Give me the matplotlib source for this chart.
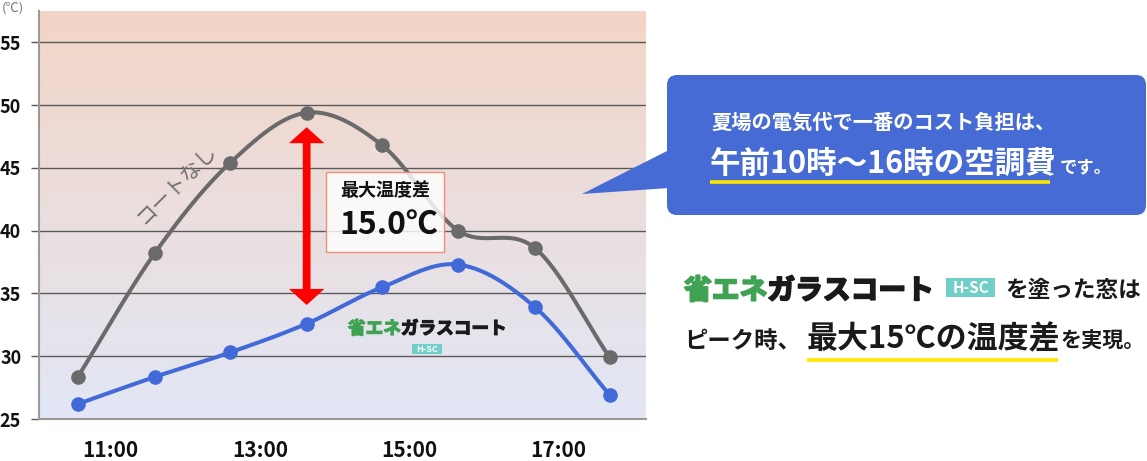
import numpy as np
import matplotlib
matplotlib.use("Agg")
import matplotlib.pyplot as plt
import matplotlib.patheffects as pe
from matplotlib.patches import FancyBboxPatch, Polygon, Rectangle

# ---------------- data ----------------
times = [10.56, 11.59, 12.60, 13.63, 14.64, 15.66, 16.69, 17.69]
no_coat = [28.35, 38.2, 45.4, 49.4, 46.8, 40.0, 38.6, 29.9]
hsc_coat = [26.2, 28.35, 30.3, 32.6, 35.5, 37.3, 33.9, 26.9]
xtick_vals = [11, 13, 15, 17]
xtick_labels = ["11:00", "13:00", "15:00", "17:00"]
ytick_vals = [25, 30, 35, 40, 45, 50, 55]
max_diff_label = "15.0℃"

JP = ['Noto Sans CJK JP', 'DejaVu Sans']
plt.rcParams['font.family'] = JP

GRAY = '#6a6a6a'
BLUE = '#4169d8'
GREEN = '#40a253'
TEAL = '#72cfc8'
YELLOW = '#ffe500'
BUBBLE = '#466bd4'
INK = '#1a1a1a'

W, H = 1147, 461
fig = plt.figure(figsize=(W / 100, H / 100), dpi=100)

# chart axes (pixel box: left 39, right 646, top 11, bottom 419)
L, R, T, B = 39, 646, 11, 419
ax = fig.add_axes([L / W, (H - B) / H, (R - L) / W, (B - T) / H])
x0, x1 = 10.039, 18.176
y0, y1 = 25, 57.5
ax.set_xlim(x0, x1)
ax.set_ylim(y0, y1)

# gradient background
top = np.array([243, 213, 198]) / 255
bot = np.array([226, 231, 246]) / 255
t = np.linspace(0, 1, 256)[:, None]
grad = (top[None, :] * (1 - t) + bot[None, :] * t)[:, None, :]
ax.imshow(grad, extent=[x0, x1, y0, y1], aspect='auto', zorder=0, origin='upper')


def smooth(xs, ys, n=30):
    xs = np.asarray(xs, float)
    ys = np.asarray(ys, float)
    m = np.zeros_like(ys)
    m[1:-1] = (ys[2:] - ys[:-2]) / (xs[2:] - xs[:-2])
    m[0] = (ys[1] - ys[0]) / (xs[1] - xs[0])
    m[-1] = (ys[-1] - ys[-2]) / (xs[-1] - xs[-2])
    X, Y = [], []
    for i in range(len(xs) - 1):
        h = xs[i + 1] - xs[i]
        s = np.linspace(0, 1, n, endpoint=(i == len(xs) - 2))
        h00 = 2 * s**3 - 3 * s**2 + 1
        h10 = s**3 - 2 * s**2 + s
        h01 = -2 * s**3 + 3 * s**2
        h11 = s**3 - s**2
        X.append(xs[i] + s * h)
        Y.append(h00 * ys[i] + h10 * h * m[i] + h01 * ys[i + 1] + h11 * h * m[i + 1])
    return np.concatenate(X), np.concatenate(Y)


sx, sy = smooth(times, no_coat)
ax.plot(sx, sy, color=GRAY, lw=2.9, zorder=3, solid_capstyle='round')
ax.plot(times, no_coat, 'o', color=GRAY, ms=9.5, zorder=4)
bx, by = smooth(times, hsc_coat)
ax.plot(bx, by, color=BLUE, lw=2.9, zorder=3, solid_capstyle='round')
ax.plot(times, hsc_coat, 'o', color=BLUE, ms=9.5, zorder=4)

# red double arrow (max difference)
ax_c = 13.627
hw, sw = 0.237, 0.052
yt, yhb, ybb, yb = 48.24, 46.97, 35.36, 34.08
arrow = Polygon([(ax_c, yt), (ax_c + hw, yhb), (ax_c + sw, yhb), (ax_c + sw, ybb),
                 (ax_c + hw, ybb), (ax_c, yb), (ax_c - hw, ybb), (ax_c - sw, ybb),
                 (ax_c - sw, yhb), (ax_c - hw, yhb)], closed=True,
                facecolor='#ff0000', edgecolor='none', zorder=5)
ax.add_patch(arrow)

# axes styling
ax.set_yticks(ytick_vals)
ax.set_yticklabels([str(v) for v in ytick_vals])
ax.set_xticks(xtick_vals)
ax.set_xticklabels(xtick_labels)
ax.grid(axis='y', color='#5a5a5a', lw=1.0, zorder=1)
ax.grid(axis='x', visible=False)
ax.tick_params(axis='y', length=5.8, width=1.0, color='#5a5a5a', pad=7,
               labelsize=13, labelcolor='#111111')
ax.tick_params(axis='x', length=0, pad=15, labelsize=15, labelcolor='#111111')
for lab in ax.get_xticklabels() + ax.get_yticklabels():
    lab.set_fontweight('bold')
for s in ['top', 'right']:
    ax.spines[s].set_visible(False)
for s in ['left', 'bottom']:
    ax.spines[s].set_color('#9a9a9a')
    ax.spines[s].set_linewidth(1.5)
    ax.spines[s].set_zorder(2)

# ---------------- overlay (pixel coordinates) ----------------
ov = fig.add_axes([0, 0, 1, 1])
ov.set_xlim(0, W)
ov.set_ylim(H, 0)
ov.axis('off')
ov.patch.set_alpha(0)

fig.canvas.draw()
renderer = fig.canvas.get_renderer()


def run(x, y, pieces, heavy=0.0):
    for s, size, color, weight, gap in pieces:
        tx = ov.text(x, y, s, fontsize=size, color=color, fontweight=weight,
                     family=JP, ha='left', va='baseline', zorder=7)
        if heavy:
            tx.set_path_effects([pe.withStroke(linewidth=heavy, foreground=color)])
        bb = tx.get_window_extent(renderer)
        x += bb.width + gap
    return x


ov.text(2, 8, "(℃)", fontsize=9.5, color='#777777', ha='left', va='center', family=JP)

# label along gray curve
ov.text(177, 184, "コートなし", fontsize=15, color='#707070', rotation=45,
        ha='center', va='center', family=JP, rotation_mode='anchor')

# max diff box
ov.add_patch(Rectangle((326, 172), 118, 80, facecolor=(1, 1, 1, 0.82),
                       edgecolor='#f0907c', lw=1.0, zorder=6))
ov.text(340, 196, "最大温度差", fontsize=13, fontweight='bold', color='#111111',
        ha='left', va='baseline', family=JP, zorder=7)
ov.text(339, 235, max_diff_label, fontsize=23, fontweight='bold', color='#111111',
        ha='left', va='baseline', family=JP, zorder=7)

# in-chart logo
run(348, 334, [("省エネ", 12.7, GREEN, 'bold', 0), ("ガラスコート", 12.7, INK, 'bold', 0)],
    heavy=0.9)
ov.add_patch(Rectangle((412.3, 344.3), 30, 10, facecolor=TEAL, edgecolor='none'))
ov.text(427.3, 349.5, "H-SC", fontsize=6.5, fontweight='bold', color='white',
        ha='center', va='center', family=JP)

# speech bubble
ov.add_patch(FancyBboxPatch((667, 75), 479, 140, boxstyle="round,pad=0,rounding_size=10",
                            facecolor=BUBBLE, edgecolor='none'))
ov.add_patch(Polygon([(582, 194), (669, 150), (669, 188)], closed=True,
                     facecolor=BUBBLE, edgecolor='none'))
run(711, 128.5, [("夏場の電気代で一番のコスト負担は、", 14.6, 'white', 'bold', 0)])
xe = run(710, 172.5, [("午前10時〜16時の空調費", 22, 'white', 'bold', 3)])
run(xe, 172.5, [("です。", 12.5, 'white', 'bold', 0)])
ov.plot([710, 1050], [182, 182], color=YELLOW, lw=2.6, solid_capstyle='butt')

# right side text
run(684, 299, [("省エネ", 20, GREEN, 'bold', 0), ("ガラスコート", 20, INK, 'bold', 0)],
    heavy=1.4)
ov.add_patch(Rectangle((946, 278), 49, 19, facecolor=TEAL, edgecolor='none'))
ov.text(970.5, 288, "H-SC", fontsize=11, fontweight='bold', color='white',
        ha='center', va='center', family=JP)
run(1005, 297, [("を塗った窓は", 16.3, INK, 'bold', 0)])
run(684, 348, [("ピーク時、", 16.8, INK, 'bold', 0)])
xe2 = run(806.5, 348, [("最大15℃の温度差", 22.3, INK, 'bold', 0)])
run(xe2, 348, [("を実現。", 15.2, INK, 'bold', 0)])
ov.plot([806.5, 1058], [360, 360], color=YELLOW, lw=2.6, solid_capstyle='butt')

fig.savefig("out.png", dpi=100)
